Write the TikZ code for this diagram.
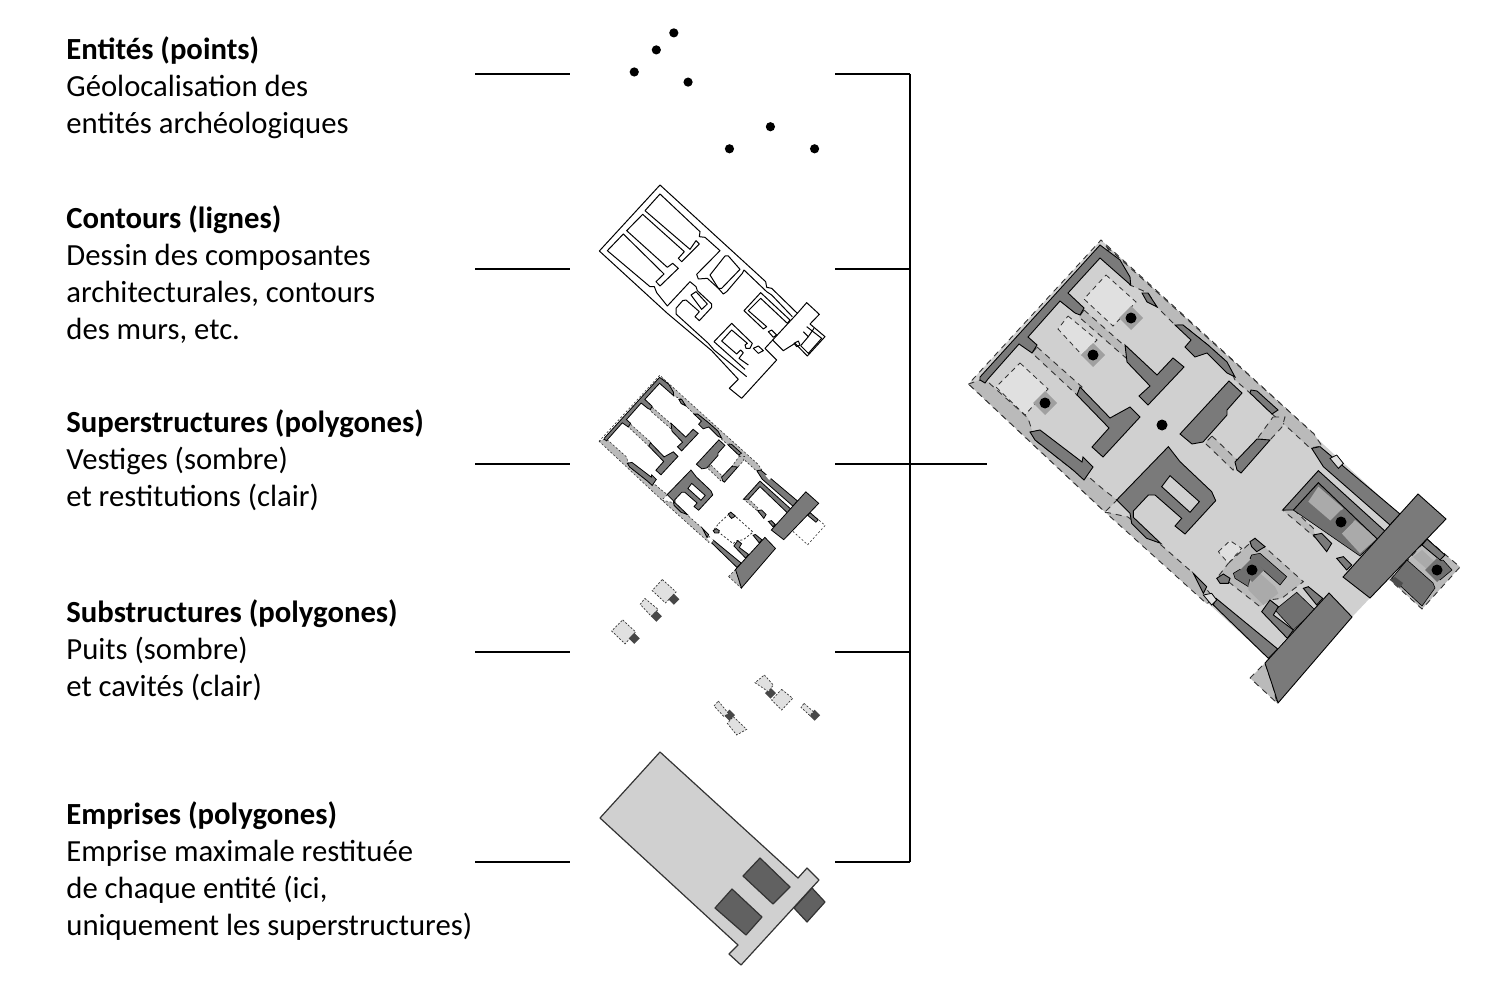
\documentclass[tikz,border=0pt]{standalone}
\usepackage{fontspec}
\setmainfont{Carlito}
\usepackage{xcolor}
\definecolor{wallcol}{RGB}{122,122,122}
\definecolor{floorcol}{RGB}{208,208,208}
\definecolor{bandcol}{RGB}{186,186,186}
\definecolor{cavcol}{RGB}{224,224,224}
\definecolor{deepcol}{RGB}{112,112,112}
\definecolor{roomcavcol}{RGB}{170,170,170}
\definecolor{wellcol}{RGB}{160,160,160}
\definecolor{edgecol}{RGB}{50,50,50}

% ============ PLAN LAYERS (pixel coordinates of the large plan) ============
\newcommand{\planbands}{
  % upper long side
  \path[band] (1106,246) -- (1130,285) -- (1148,293) -- (1157,307) -- (1175,325) -- (1183,325)
    -- (1208,345) -- (1227,362) -- (1235,380) -- (1250,393) -- (1272,414) -- (1285,425)
    -- (1310,448) -- (1322,446) -- (1314,434) -- cycle;
  % lower long side, both parts
  \path[band] (968.5,384) -- (980,380) -- (988,382) -- (1028,418) -- (1035,440) -- (1073,470)
    -- (1090,478) -- (1104,490) -- (1117,500) -- (1105,512) -- cycle;
  \path[band] (1105,512) -- (1128,517) -- (1161,545) -- (1193,573) -- (1213,597) -- (1207,604) -- cycle;
  % corner below the lower bar
  \path[band] (1250,678) -- (1265,663) -- (1273,687) -- (1277,703) -- cycle;
  % across the side room
  \path[band] (1273,417) -- (1285,417) -- (1282,427) -- (1270,440) -- (1257,439) -- cycle;
}
\newcommand{\planstrips}{
  \path[strip] (1037,347) -- (1082,387) -- (1077,395) -- (1032,353) -- cycle;
  \path[strip] (1084,310) -- (1127,348) -- (1126,358) -- (1079,317) -- cycle;
  \path[strip] (1212,436) -- (1237,460) -- (1233,470) -- (1205,443) -- cycle;
  \begin{scope}[eastpart]
    \path[strip] (548,240) -- (580,238) -- (640,295) -- (645,322) -- cycle;
    \path[roomband] (385,400) -- (465,325) -- (610,455) -- (545,505) -- (505,510) -- (480,530)
      -- (385,455) -- (350,445) -- cycle;
  \end{scope}
}
\newcommand{\plandeep}{
  \begin{scope}[eastpart]
    \path[deep] (580,240) -- (655,158) -- (835,325) -- (780,378) -- cycle;
    \path[deep] (455,375) -- (480,370) -- (560,440) -- (540,465) -- (450,385) -- cycle;
    \path[deep] (400,430) -- (420,418) -- (450,440) -- (445,470) -- (405,445) -- cycle;
    \path[deep] (525,540) -- (590,487) -- (645,540) -- (580,600) -- cycle;
  \end{scope}
  % annexe behind the upper bar
  \path[band] (1427,539) -- (1460,567) -- (1422,609) -- (1390,580) -- cycle;
  \path[deep] (1407,560) -- (1433,583) -- (1435,588) -- (1422,606) -- (1392,578) -- cycle;
  \path[deep] (1435,562) -- (1443,560) -- (1452,570) -- (1440,580) -- (1432,573) -- cycle;
  \path[fill=black!70] (1390,580) -- (1395,577) -- (1403,583) -- (1400,588) -- cycle;
}
\newcommand{\plancavities}{
  \path[cavity] (1020,363) -- (1048,389) -- (1025,415) -- (996,387) -- cycle;
  \path[cavity] (1068,316) -- (1097,340) -- (1082,355) -- (1058,329) -- cycle;
  \path[cavity] (1106,275) -- (1136,302) -- (1113,326) -- (1084,299) -- cycle;
}
\newcommand{\planroomcavities}{
  \path[roomcav] (1422,550) -- (1435,562) -- (1428,570) -- (1413,557) -- cycle;
  \begin{scope}[eastpart]
    \path[roomcav] (625,215) -- (655,170) -- (730,235) -- (695,275) -- cycle;
    \path[roomcav] (725,310) -- (765,270) -- (830,325) -- (780,370) -- cycle;
    \path[roomcav] (445,465) -- (480,430) -- (525,470) -- (535,490) -- (490,525) -- (445,480) -- cycle;
    \path[cavity] (355,365) -- (390,332) -- (425,355) -- (385,400) -- cycle;
  \end{scope}
}
\newcommand{\planwalls}{
  % north-west wall with its returns
  \path[wall] (1100,245) -- (1120,260) -- (1130,277) -- (1130.7,285) -- (1117,273) -- (1100,258)
    -- (1068,293) -- (1084,308) -- (1080,315) -- (1075,313) -- (1060,301) -- (1028,337)
    -- (1037,345) -- (1032,353) -- (1019,344) -- (988,379) -- (985,383) -- (980,380)
    -- (980,377) -- cycle;
  % the two T-shaped walls
  \path[wall] (1125,345) -- (1157,375) -- (1173,358) -- (1184,367) -- (1148,405) -- (1139,396)
    -- (1150,386) -- (1127,362) -- cycle;
  \path[wall] (1080,387) -- (1110,418) -- (1130,407) -- (1140,417) -- (1103,457) -- (1092,447)
    -- (1109,428) -- (1077,395) -- cycle;
  % side walls
  \path[wall] (1030,432) -- (1040,430) -- (1082,462) -- (1083,457) -- (1093,467) -- (1084,480)
    -- (1073,470) -- (1035,440) -- cycle;
  \path[wall] (1142,293) -- (1148,293) -- (1157,307) -- (1147,302) -- cycle;
  \path[wall] (1175,325) -- (1183,325) -- (1208,345) -- (1227,362) -- (1235,377) -- (1227,373)
    -- (1207,353) -- (1195,357) -- (1185,347) -- (1191,340) -- cycle;
  % central hall
  \path[wall] (1180,434) -- (1229,381) -- (1242,393) -- (1227,410) -- (1227,415) -- (1203,442)
    -- (1192,444) -- cycle;
  \path[wall] (1251,390) -- (1257,391) -- (1278,410) -- (1272,414) -- (1250,393) -- cycle;
  \path[wall] (1235,462) -- (1257,439) -- (1270,440) -- (1241,473) -- (1237,470) -- cycle;
  \begin{scope}[eastpart]
    \path[wall, even odd rule] (50,210) -- (205,50) -- (240,95) -- (335,185) -- (347,212)
      -- (255,312) -- (225,288) -- (245,265) -- (165,195) -- (145,195) -- (100,243) -- (100,262)
      -- (182,340) -- (140,325) -- (95,280) -- (90,250) -- cycle
      (210,137) -- (298,215) -- (270,247) -- (185,170) -- cycle;
    % upper room frame and its stubs
    \path[wall] (548,240) -- (655,122) -- (860,308) -- (835,330) -- (655,158) -- (580,240) -- cycle;
    \path[wall] (640,315) -- (665,310) -- (695,340) -- (680,365) -- cycle;
    \path[wall] (710,385) -- (730,380) -- (755,405) -- (740,420) -- cycle;
    % lower room
    \path[wall] (450,335) -- (465,325) -- (495,350) -- (470,365) -- (455,350) -- cycle;
    \path[wall] (350,445) -- (370,432) -- (390,445) -- (385,460) -- (360,460) -- cycle;
    \path[wall] (485,545) -- (510,510) -- (535,530) -- (520,555) -- (580,600) -- (562,625) -- cycle;
    \path[wall] (610,475) -- (625,470) -- (668,505) -- (650,525) -- cycle;
    % long outer walls
    \path[wall] (635,55) -- (660,50) -- (900,252) -- (870,285) -- (670,110) -- cycle;
    \path[wall] (348,505) -- (533,657) -- (505,685) -- (340,525) -- cycle;
    \path[wall] (280,430) -- (320,470) -- (310,490) -- cycle;
    \path[door] (690,85) -- (710,75) -- (730,100) -- (715,115) -- cycle;
    \path[door] (310,495) -- (335,490) -- (350,510) -- (335,525) -- cycle;
  \end{scope}
  % annexe wall, then the two cross bars
  \path[wall] (1427,539) -- (1445,555) -- (1440,560) -- (1422,545) -- cycle;
  \path[wall] (1418,494) -- (1446,519) -- (1370,598) -- (1343,577) -- cycle;
  \path[wall] (1329,593) -- (1352,617) -- (1278,703) -- (1273,687) -- (1265,663) -- cycle;
}
\newcommand{\wellat}[3]{
  \path[#1] (#2,#3) ++(0,-12) -- ++(12,12) -- ++(-12,12) -- ++(-12,-12) -- cycle;
}
\newcommand{\planpoints}[1]{
  \foreach \px/\py in {1131/318, 1093/355, 1045/403, 1162/425, 1252/570, 1341/522, 1437/570}
    \fill (\px,\py) circle (#1);
}

\begin{document}
\begin{tikzpicture}[
    x=0.5pt, y=-0.5pt,
    leader/.style={line width=1pt},
    tierlabel/.style={anchor=north west, align=left, inner sep=0pt, font=\fontsize{15.35}{18.5}\selectfont},
    eastpart/.style={shift={(1100,430)}, scale=1/3},
    linepart/.style={shift={(590,180)}, scale=1/3},
    pitpart/.style={shift={(600,570)}, scale=1/3},
    miniplan/.style={shift={(660-0.46*1101,#1-0.46*240)}, scale=0.46},
    contourline/.style={draw=black, line width=0.5pt, line join=round},
    band/.style={fill=bandcol},
    strip/.style={fill=bandcol},
    roomband/.style={fill=bandcol},
    deep/.style={fill=deepcol},
    cavity/.style={fill=cavcol, draw=edgecol, dashed, dash pattern=on 2.5pt off 2pt, line width=0.4pt},
    roomcav/.style={fill=roomcavcol},
    wall/.style={fill=wallcol, draw=black, line width=0.45pt},
    door/.style={fill=cavcol, draw=black, line width=0.4pt},
    well/.style={fill=wellcol},
    roomwell/.style={fill=deepcol},
    flatblock/.style={draw=black!80, line width=0.6pt, line join=round},
]
\useasboundingbox (0,0) rectangle (1492,984);

% ============ TIER LABELS ============
\node[tierlabel] (points) at (66,36) {\textbf{Entités (points)}\\Géolocalisation des\\entités archéologiques};
\node[tierlabel] (contours) at (66,205) {\textbf{Contours (lignes)}\\Dessin des composantes\\architecturales, contours\\des murs, etc.};
\node[tierlabel] (super) at (66,409) {\textbf{Superstructures (polygones)}\\Vestiges (sombre)\\et restitutions (clair)};
\node[tierlabel] (sub) at (66,599) {\textbf{Substructures (polygones)}\\Puits (sombre)\\et cavités (clair)};
\node[tierlabel] (emprises) at (66,801) {\textbf{Emprises (polygones)}\\Emprise maximale restituée\\de chaque entité (ici,\\uniquement les superstructures)};

% ============ LEADERS AND BRACKET ============
\coordinate (hub) at (987,464);
\coordinate (trunktop) at (910,74);
\coordinate (trunkbot) at (910,862);
\foreach \tier/\ty in {points/74, contours/269, super/464, sub/652, emprises/862}{
  \coordinate (\tier-a) at (475,\ty);
  \coordinate (\tier-b) at (570,\ty);
  \coordinate (\tier-c) at (835,\ty);
  \coordinate (\tier-d) at (910,\ty);
  \draw[leader] (\tier-a) -- (\tier-b);
  \draw[leader] (\tier-c) -- (\tier-d);
}
\draw[leader] (trunktop) -- (trunkbot);
\draw[leader] (super-d) -- (hub);

% ============ POINTS ============
\begin{scope}[miniplan=-3]
  \planpoints{10}
\end{scope}

% ============ CONTOURS ============
\begin{scope}[linepart]
  % outer limit with both bars and the annexe
  \path[contourline] (210,15) -- (527,305) -- (530,322) -- (545,325) -- (622,400) -- (650,368)
    -- (688,403) -- (660,432) -- (705,470) -- (652,528) -- (615,490) -- (580,512) -- (548,480)
    -- (525,505) -- (560,540) -- (455,655) -- (418,625) -- (445,598) -- (365,512) -- (232,400)
    -- (28,213) -- cycle;
  % bar edge against the rooms
  \path[contourline] (622,400) -- (548,480);
  % long rooms, hall and building
  \path[contourline] (165,92) -- (300,208) -- (318,182) -- (328,192) -- (275,245) -- (265,235)
    -- (283,215) -- (158,103) -- (110,152) -- (232,262) -- (248,250) -- (265,265) -- (210,318)
    -- (198,305) -- (222,282) -- (100,162) -- (52,212) -- (180,320) -- (193,320) -- (200,338)
    -- (232,378) -- (300,305) -- (318,320) -- (322,332) -- (365,372) -- (365,382) -- (328,422)
    -- (315,410) -- (328,395) -- (288,360) -- (278,362) -- (258,385) -- (258,402) -- (355,490)
    -- (372,510) -- (470,590);
  \path[contourline] (303,345) -- (318,335) -- (352,372) -- (335,388) -- cycle;
  % upper edge of the hall
  \path[contourline] (165,92) -- (210,42) -- (330,155) -- (328,170) -- (345,172) -- (390,212)
    -- (320,283) -- (325,297) -- (352,295) -- (385,325) -- (400,342) -- (410,335) -- (457,280)
    -- (462,270) -- (530,335) -- (545,345) -- (607,410);
  % side room
  \path[contourline] (360,285) -- (405,228) -- (415,228) -- (450,268) -- (395,325) -- (385,325) -- cycle;
  % upper room
  \path[contourline] (462,392) -- (512,338) -- (600,420) -- (592,430) -- (512,355) -- (475,392)
    -- (530,440) -- (520,447) -- cycle;
  \path[contourline] (535,455) -- (545,450) -- (560,465) -- (550,472) -- cycle;
  % lower room
  \path[contourline] (372,485) -- (425,430) -- (487,490) -- (480,505) -- (468,505) -- (465,495)
    -- (472,490) -- (425,450) -- (395,483) -- (440,522) -- (452,510) -- (460,518) -- (447,535)
    -- (475,555);
  \path[contourline] (372,485) -- (465,568);
  \path[contourline] (490,505) -- (505,498) -- (520,512) -- (505,520) -- cycle;
  % annexe
  \path[contourline] (650,440) -- (695,475) -- (655,520) -- (632,497) -- (655,470) -- (640,455);
  \path[contourline] (612,490) -- (625,483) -- (630,495) -- (620,500) -- cycle;
  \path[contourline] (655,470) -- (672,445);
\end{scope}

% ============ SUPERSTRUCTURES ============
\begin{scope}[miniplan=375,
    wall/.style={fill=wallcol, draw=black, line width=0.4pt},
    band/.style={fill=bandcol, draw=edgecol, dashed, dash pattern=on 1pt off 1pt, line width=0.3pt},
    strip/.style={band},
    roomband/.style={draw=edgecol, dashed, dash pattern=on 1pt off 1pt, line width=0.4pt},
    door/.style={fill=white}]
  \planbands
  \planstrips
  \path[draw=edgecol, dashed, dash pattern=on 1pt off 1pt, line width=0.3pt]
    (1106,246) -- (1101,240) -- (968.5,384);
  \path[draw=edgecol, dashed, dash pattern=on 1pt off 1pt, line width=0.3pt, fill=white]
    (1427,539) -- (1460,567) -- (1422,609) -- (1390,580);
  \planwalls
\end{scope}

% ============ SUBSTRUCTURES ============
\begin{scope}[miniplan=563.4,
    cavity/.style={fill=cavcol, draw=edgecol, dashed, dash pattern=on 1pt off 0.8pt, line width=0.35pt},
    well/.style={fill=black!72}]
  \plancavities
  \wellat{well}{1131}{318}
  \wellat{well}{1093}{355}
  \wellat{well}{1045}{403}
  \wellat{well}{1252}{570}
  \wellat{well}{1341}{522}
  \wellat{well}{1437}{570}
\end{scope}
\begin{scope}[pitpart,
    cavity/.style={fill=cavcol, draw=edgecol, dashed, dash pattern=on 1pt off 0.8pt, line width=0.35pt}]
  \path[cavity] (493,315) -- (520,345) -- (505,365) -- (465,338) -- cycle;
  \path[cavity] (545,358) -- (578,385) -- (545,420) -- (515,390) -- cycle;
  \path[cavity] (355,393) -- (385,430) -- (372,440) -- (342,408) -- cycle;
  \path[cavity] (400,440) -- (440,478) -- (410,495) -- (382,460) -- cycle;
  \path[cavity] (612,400) -- (640,425) -- (630,437) -- (603,412) -- cycle;
\end{scope}

% ============ EMPRISES ============
\path[flatblock, fill=floorcol] (660,752) -- (798,878) -- (807,868) -- (819,880) -- (741,965)
  -- (729,954) -- (738,945) -- (600,818) -- cycle;
\path[flatblock, fill=black!62] (812,888) -- (825,902) -- (807,922) -- (794,908) -- cycle;
\path[flatblock, fill=black!62] (760,858) -- (790,887) -- (773,904) -- (743,876) -- cycle;
\path[flatblock, fill=black!62] (732,889) -- (762,917) -- (746,935) -- (715,908) -- cycle;

% ============ FULL PLAN ============
\begin{scope}[
    band/.style={fill=bandcol, draw=edgecol, dashed, dash pattern=on 3pt off 2.5pt, line width=0.45pt},
    strip/.style={band},
    roomband/.style={band},
    deep/.style={fill=deepcol, draw=black, line width=0.3pt}]
  \path[fill=floorcol] (1101,240) -- (1399,514) -- (1343,577) -- (1370,598) -- (1352,617)
    -- (1329,593) -- (1268,658) -- (968.5,384) -- cycle;
  \path[draw=edgecol, dashed, dash pattern=on 3pt off 2.5pt, line width=0.45pt]
    (1314,434) -- (1101,240) -- (968.5,384) -- (1105,512);
  \planbands
  \planstrips
  \plandeep
  \plancavities
  \planroomcavities
  \planwalls
  \wellat{well}{1131}{318}
  \wellat{well}{1093}{355}
  \wellat{well}{1045}{403}
  \wellat{roomwell}{1252}{570}
  \wellat{roomwell}{1341}{522}
  \wellat{roomwell}{1437}{570}
  \planpoints{5.5}
\end{scope}
\end{tikzpicture}
\end{document}
